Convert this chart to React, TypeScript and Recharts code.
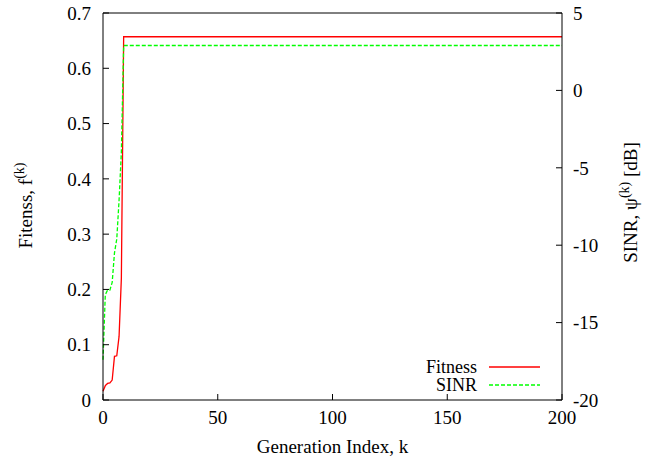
import { LineChart, Line, XAxis, YAxis, Legend } from 'recharts';

// generation index k and the two traces (flat after k = 9)
const generation = [0, 1, 2, 3, 4, 5, 6, 7, 8, 9, 200];
const fitness = [0.016, 0.026, 0.03, 0.031, 0.036, 0.079, 0.08, 0.115, 0.22, 0.657, 0.657];
const sinrDb = [-17.4, -13.2, -12.9, -12.9, -12.4, -10.5, -9.6, -7.1, -4.0, 2.9, 2.9];

const xTicks = [0, 50, 100, 150, 200];
const fitnessTicks = [0, 0.1, 0.2, 0.3, 0.4, 0.5, 0.6, 0.7];
const sinrTicks = [-20, -15, -10, -5, 0, 5];

const data = generation.map((k, i) => ({ k, fitness: fitness[i], sinr: sinrDb[i] }));

const FONT = '"Liberation Serif", "Times New Roman", serif';

// serif tick text, drawn by hand so the font sticks
const SerifTick = (props: any) => {
  const { x, y, payload, textAnchor, orientation } = props;
  const dy = orientation === 'bottom' ? '0.71em' : '0.355em';
  return (
    <text x={x} y={y} dy={dy} textAnchor={textAnchor} fontSize={19} fontFamily={FONT} fill="#000">
      {String(payload.value)}
    </text>
  );
};

const XTitle = (props: any) => {
  const vb = props.viewBox || { x: 103, y: 400, width: 459, height: 65 };
  return (
    <text x={vb.x + vb.width / 2} y={vb.y + 53} textAnchor="middle" fontSize={19} fontFamily={FONT} fill="#000">
      Generation Index, k
    </text>
  );
};

const LeftTitle = (props: any) => {
  const vb = props.viewBox || { x: 0, y: 13, width: 103, height: 387 };
  const cx = vb.x + 32;
  const cy = vb.y + vb.height / 2 - 1;
  return (
    <text x={cx} y={cy} transform={`rotate(-90, ${cx}, ${cy})`} textAnchor="middle" fontSize={19} fontFamily={FONT} fill="#000">
      Fitenss, f<tspan dy={-8} fontSize={14}>(k)</tspan>
    </text>
  );
};

const RightTitle = (props: any) => {
  const vb = props.viewBox || { x: 562, y: 13, width: 96, height: 387 };
  const cx = vb.x + 75;
  const cy = vb.y + vb.height / 2 - 4;
  return (
    <text x={cx} y={cy} transform={`rotate(-90, ${cx}, ${cy})`} textAnchor="middle" fontSize={19} fontFamily={FONT} fill="#000">
      SINR, ψ<tspan dy={-8} fontSize={14}>(k)</tspan>
      <tspan dy={8} fontSize={19}> [dB]</tspan>
    </text>
  );
};

const renderLegend = (props: any) => {
  const items = props.payload || [];
  return (
    <div>
      {items.map((entry: any) => (
        <div key={entry.value} style={{ display: 'flex', alignItems: 'center', height: 18.5 }}>
          <span style={{ width: 77, textAlign: 'right', fontSize: 18, fontFamily: FONT, lineHeight: '16px', color: '#000' }}>
            {entry.value}
          </span>
          <svg width={64} height={18}>
            <line
              x1={12}
              x2={63}
              y1={9}
              y2={9}
              stroke={entry.color}
              strokeWidth={1.3}
              strokeDasharray={entry.payload?.strokeDasharray}
            />
          </svg>
        </div>
      ))}
    </div>
  );
};

export default function App() {
  return (
    <div style={{ position: 'absolute', left: 0, top: 0, background: '#fff', fontFamily: FONT }}>
      <LineChart width={658} height={465} data={data} margin={{ top: 8, right: 0, bottom: 0, left: 0 }}>
        <XAxis
          xAxisId="bottom"
          dataKey="k"
          type="number"
          domain={[0, 200]}
          ticks={xTicks}
          height={65}
          tickSize={-6}
          tickMargin={17}
          tick={<SerifTick orientation="bottom" />}
          stroke="#000"
          axisLine={{ stroke: '#000' }}
          tickLine={{ stroke: '#000' }}
          label={XTitle}
        />
        <XAxis
          xAxisId="top"
          orientation="top"
          dataKey="k"
          type="number"
          domain={[0, 200]}
          ticks={xTicks}
          height={5}
          tickSize={-6}
          tick={false}
          stroke="#000"
          axisLine={{ stroke: '#000' }}
          tickLine={{ stroke: '#000' }}
        />
        <YAxis
          yAxisId="left"
          type="number"
          domain={[0, 0.7]}
          ticks={fitnessTicks}
          width={103}
          tickSize={-6}
          tickMargin={18}
          tick={<SerifTick orientation="left" />}
          stroke="#000"
          axisLine={{ stroke: '#000' }}
          tickLine={{ stroke: '#000' }}
          label={LeftTitle}
        />
        <YAxis
          yAxisId="right"
          orientation="right"
          type="number"
          domain={[-20, 5]}
          ticks={sinrTicks}
          width={96}
          tickSize={-6}
          tickMargin={17}
          tick={<SerifTick orientation="right" />}
          stroke="#000"
          axisLine={{ stroke: '#000' }}
          tickLine={{ stroke: '#000' }}
          label={RightTitle}
        />
        <Legend
          layout="vertical"
          align="center"
          verticalAlign="middle"
          content={renderLegend}
          wrapperStyle={{ left: 400, top: 357.5, width: 145, height: 37 }}
        />
        <Line
          xAxisId="bottom"
          yAxisId="left"
          type="linear"
          dataKey="fitness"
          name="Fitness"
          stroke="#ff0000"
          strokeWidth={1.3}
          dot={false}
          isAnimationActive={false}
        />
        <Line
          xAxisId="bottom"
          yAxisId="right"
          type="linear"
          dataKey="sinr"
          name="SINR"
          stroke="#00ff00"
          strokeWidth={1.3}
          strokeDasharray="4 2"
          dot={false}
          isAnimationActive={false}
        />
      </LineChart>
    </div>
  );
}
